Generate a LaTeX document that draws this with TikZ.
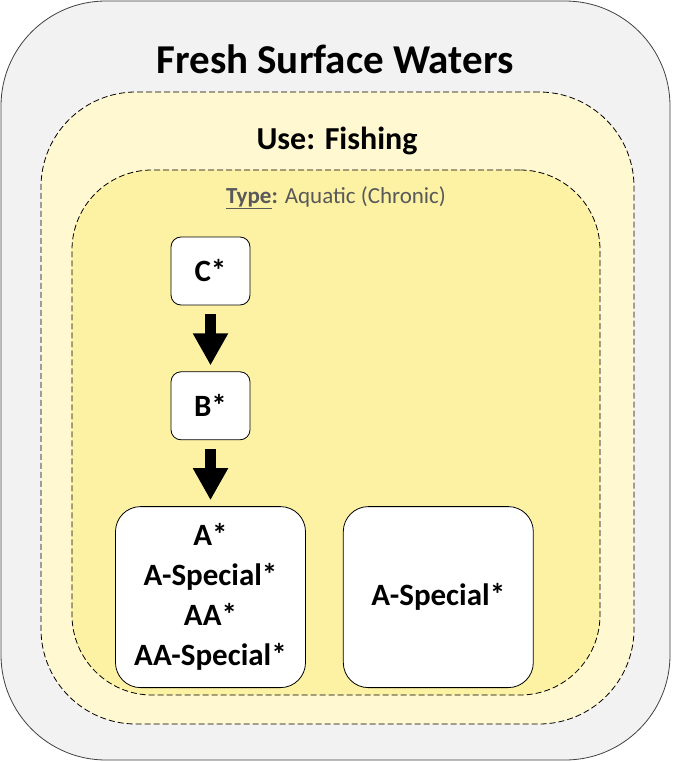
\documentclass[tikz,border=0pt]{standalone}
\usepackage{fontspec}
\setmainfont{Carlito}
\usepackage{tikz}
\usetikzlibrary{positioning}
\usetikzlibrary{arrows.meta}

\definecolor{waterfill}{HTML}{F2F2F2}
\definecolor{usefill}{HTML}{FFF8D0}
\definecolor{typefill}{HTML}{FDF2A4}
\definecolor{edgegray}{HTML}{404040}
\definecolor{typegray}{HTML}{595959}

\begin{document}
\begin{tikzpicture}[x=1pt,y=-1pt,node distance=66pt,
  frame/.style={draw=black,dash pattern=on 6pt off 3pt,line width=0.8pt},
  limit/.style={draw=black,fill=white,rounded corners=10pt,line width=0.8pt,
    minimum width=79pt,minimum height=68pt,font=\bfseries\fontsize{31}{40}\selectfont},
  group/.style={limit,rounded corners=25pt,minimum width=190pt,minimum height=181pt,align=center},
  flow/.style={-{Triangle[width=33pt,length=32pt]},line width=11pt,shorten <=9pt,shorten >=6pt}]

\useasboundingbox (0,0) rectangle (672,762);

% nested areas
\node[draw=edgegray,fill=waterfill,line width=0.8pt,rounded corners=105pt,
      minimum width=669pt,minimum height=759pt] (water) at (335.5,380.5) {};
\node[frame,fill=usefill,rounded corners=95pt,
      minimum width=593pt,minimum height=632pt] (use) at (337.5,408) {};
\node[frame,fill=typefill,rounded corners=80pt,
      minimum width=528pt,minimum height=525pt] (type) at (336,432.5) {};

\node[font=\bfseries\fontsize{41}{44}\selectfont] (waterlabel) at (335,59) {Fresh Surface Waters};
\node[font=\bfseries\fontsize{32}{36}\selectfont] (uselabel) at (337,141) {Use: Fishing};
\node[text=typegray,font=\fontsize{23}{26}\selectfont] (typelabel) at (336,198)
     {\underline{\textbf{Type}}\textbf{:} Aquatic (Chronic)};

% limits
\node[limit] (C) at (210.5,271) {C*};
\node[limit] (B) [below=of C] {B*};
\node[group] (A) [below=of B] {A*\\A-Special*\\AA*\\AA-Special*};
\node[group] (AS) [right=37pt of A] {A-Special*};

\draw[flow] (C) -- (B);
\draw[flow] (B) -- (A);

\end{tikzpicture}
\end{document}
